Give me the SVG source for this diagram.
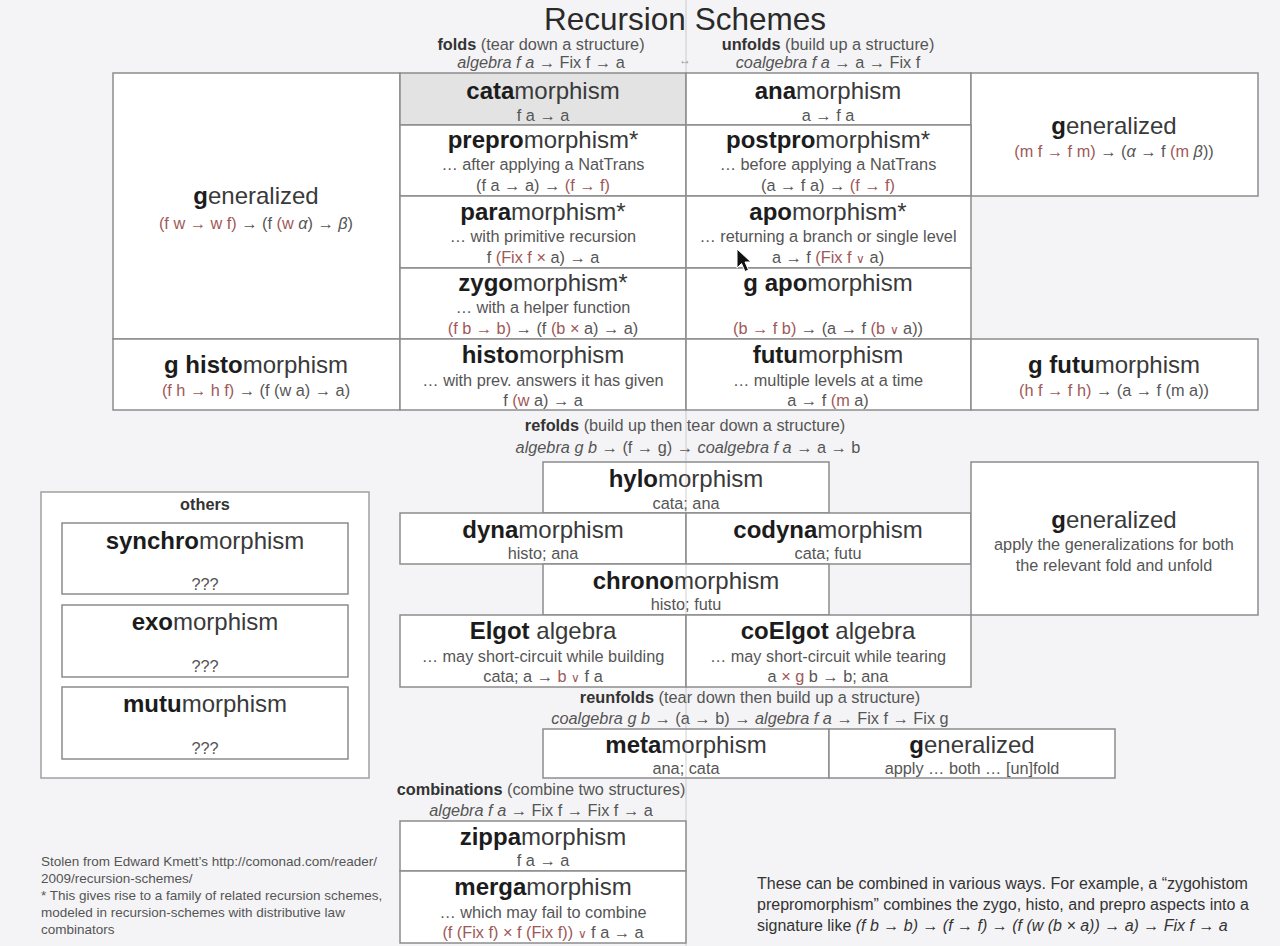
<svg xmlns="http://www.w3.org/2000/svg" width="1280" height="946" viewBox="0 0 1280 946">
<style>
text{font-family:"Liberation Sans",Arial,Helvetica,sans-serif;text-anchor:middle}
.cell{fill:#ffffff;stroke:#8c8c8c;stroke-width:1.5}
.grey{fill:#e3e3e3}
.h{font-size:24px;fill:#3a3a3a}
.b{font-weight:bold;fill:#1c1c1c}
.s{font-size:16.3px;fill:#555}
.hd{font-size:16.3px;fill:#555}
.hd .b{fill:#333}
.r{fill:#9e5858}
.i{font-style:italic}
.v{font-size:12px}
.foot{font-size:13.5px;fill:#555;text-anchor:start}
.para{font-size:16px;fill:#333;text-anchor:start}
</style>
<rect x="0" y="0" width="1280" height="946" fill="#f4f4f6"/>

<text x="685" y="30" style="font-size:31.5px;fill:#2a2a2a">Recursion Schemes</text>
<g id="hdr-folds">
<text class="hd" x="541" y="50"><tspan class="b">folds</tspan> (tear down a structure)</text>
<text class="hd" x="541" y="68"><tspan class="i">algebra f a</tspan> → Fix f → a</text>
</g>
<text x="685" y="64" style="font-size:12px;fill:#999">↔</text>
<g id="hdr-unfolds">
<text class="hd" x="828" y="50"><tspan class="b">unfolds</tspan> (build up a structure)</text>
<text class="hd" x="828" y="68"><tspan class="i">coalgebra f a</tspan> → a → Fix f</text>
</g>

<g id="gen-left">
<rect class="cell" x="113" y="73" width="287" height="266"/>
<text class="h" x="256" y="204"><tspan class="b">g</tspan>eneralized</text>
<text class="s" x="256" y="229"><tspan class="r">(f w → w f) </tspan>→ (f <tspan class="r">(w </tspan><tspan class="i">α</tspan>) → <tspan class="i">β</tspan>)</text>
</g>
<g id="cata">
<rect class="cell grey" x="400" y="73" width="286" height="52"/>
<text class="h" x="543" y="99"><tspan class="b">cata</tspan>morphism</text>
<text class="s" x="543" y="121">f a → a</text>
</g>
<g id="ana">
<rect class="cell" x="686" y="73" width="285" height="52"/>
<text class="h" x="828" y="99"><tspan class="b">ana</tspan>morphism</text>
<text class="s" x="828" y="121">a → f a</text>
</g>
<g id="gen-right">
<rect class="cell" x="971" y="73" width="287" height="123"/>
<text class="h" x="1114" y="134"><tspan class="b">g</tspan>eneralized</text>
<text class="s" x="1114" y="157"><tspan class="r">(m f → f m) </tspan>→ (<tspan class="i">α</tspan> → f <tspan class="r">(m </tspan><tspan class="i">β</tspan>))</text>
</g>
<g id="prepro">
<rect class="cell" x="400" y="125" width="286" height="71"/>
<text class="h" x="543" y="148"><tspan class="b">prepro</tspan>morphism*</text>
<text class="s" x="543" y="170">… after applying a NatTrans</text>
<text class="s" x="543" y="191">(f a → a) → <tspan class="r">(f → f)</tspan></text>
</g>
<g id="postpro">
<rect class="cell" x="686" y="125" width="285" height="71"/>
<text class="h" x="828" y="148"><tspan class="b">postpro</tspan>morphism*</text>
<text class="s" x="828" y="170">… before applying a NatTrans</text>
<text class="s" x="828" y="191">(a → f a) → <tspan class="r">(f → f)</tspan></text>
</g>
<g id="para">
<rect class="cell" x="400" y="196" width="286" height="72"/>
<text class="h" x="543" y="220"><tspan class="b">para</tspan>morphism*</text>
<text class="s" x="543" y="242">… with primitive recursion</text>
<text class="s" x="543" y="263">f <tspan class="r">(Fix f × </tspan>a) → a</text>
</g>
<g id="apo">
<rect class="cell" x="686" y="196" width="285" height="72"/>
<text class="h" x="828" y="220"><tspan class="b">apo</tspan>morphism*</text>
<text class="s" x="828" y="242">… returning a branch or single level</text>
<text class="s" x="828" y="263">a → f <tspan class="r">(Fix f <tspan class="v">∨</tspan> </tspan>a)</text>
</g>
<g id="zygo">
<rect class="cell" x="400" y="268" width="286" height="71"/>
<text class="h" x="543" y="291"><tspan class="b">zygo</tspan>morphism*</text>
<text class="s" x="543" y="313">… with a helper function</text>
<text class="s" x="543" y="334"><tspan class="r">(f b → b) </tspan>→ (f <tspan class="r">(b × </tspan>a) → a)</text>
</g>
<g id="gapo">
<rect class="cell" x="686" y="268" width="285" height="71"/>
<text class="h" x="828" y="291"><tspan class="b">g apo</tspan>morphism</text>
<text class="s" x="828" y="334"><tspan class="r">(b → f b) </tspan>→ (a → f <tspan class="r">(b <tspan class="v">∨</tspan> </tspan>a))</text>
</g>
<g id="ghisto">
<rect class="cell" x="113" y="339" width="287" height="71"/>
<text class="h" x="256" y="373"><tspan class="b">g histo</tspan>morphism</text>
<text class="s" x="256" y="396"><tspan class="r">(f h → h f) </tspan>→ (f (w a) → a)</text>
</g>
<g id="histo">
<rect class="cell" x="400" y="339" width="286" height="71"/>
<text class="h" x="543" y="363"><tspan class="b">histo</tspan>morphism</text>
<text class="s" x="543" y="386">… with prev. answers it has given</text>
<text class="s" x="543" y="406">f <tspan class="r">(w </tspan>a) → a</text>
</g>
<g id="futu">
<rect class="cell" x="686" y="339" width="285" height="71"/>
<text class="h" x="828" y="363"><tspan class="b">futu</tspan>morphism</text>
<text class="s" x="828" y="386">… multiple levels at a time</text>
<text class="s" x="828" y="406">a → f <tspan class="r">(m </tspan>a)</text>
</g>
<g id="gfutu">
<rect class="cell" x="971" y="339" width="287" height="71"/>
<text class="h" x="1114" y="373"><tspan class="b">g futu</tspan>morphism</text>
<text class="s" x="1114" y="396"><tspan class="r">(h f → f h) </tspan>→ (a → f (m a))</text>
</g>

<g id="hdr-refolds">
<text class="hd" x="685" y="431"><tspan class="b">refolds</tspan> (build up then tear down a structure)</text>
<text class="hd" x="688" y="453"><tspan class="i">algebra g b</tspan> → (f → g) → <tspan class="i">coalgebra f a</tspan> → a → b</text>
</g>
<g id="hylo">
<rect class="cell" x="543" y="462" width="286" height="51"/>
<text class="h" x="686" y="487"><tspan class="b">hylo</tspan>morphism</text>
<text class="s" x="686" y="509">cata; ana</text>
</g>
<g id="dyna">
<rect class="cell" x="400" y="513" width="286" height="51"/>
<text class="h" x="543" y="538"><tspan class="b">dyna</tspan>morphism</text>
<text class="s" x="543" y="559">histo; ana</text>
</g>
<g id="codyna">
<rect class="cell" x="686" y="513" width="285" height="51"/>
<text class="h" x="828" y="538"><tspan class="b">codyna</tspan>morphism</text>
<text class="s" x="828" y="559">cata; futu</text>
</g>
<g id="chrono">
<rect class="cell" x="543" y="564" width="286" height="51"/>
<text class="h" x="686" y="589"><tspan class="b">chrono</tspan>morphism</text>
<text class="s" x="686" y="610">histo; futu</text>
</g>
<g id="elgot">
<rect class="cell" x="400" y="615" width="286" height="72"/>
<text class="h" x="543" y="639"><tspan class="b">Elgot</tspan> algebra</text>
<text class="s" x="543" y="662">… may short-circuit while building</text>
<text class="s" x="543" y="682">cata; a → <tspan class="r">b <tspan class="v">∨</tspan> </tspan>f a</text>
</g>
<g id="coelgot">
<rect class="cell" x="686" y="615" width="285" height="72"/>
<text class="h" x="828" y="639"><tspan class="b">coElgot</tspan> algebra</text>
<text class="s" x="828" y="662">… may short-circuit while tearing</text>
<text class="s" x="828" y="682">a <tspan class="r">× g</tspan> b → b; ana</text>
</g>
<g id="gen-refold">
<rect class="cell" x="971" y="462" width="287" height="153"/>
<text class="h" x="1114" y="528"><tspan class="b">g</tspan>eneralized</text>
<text class="s" x="1114" y="550">apply the generalizations for both</text>
<text class="s" x="1114" y="571">the relevant fold and unfold</text>
</g>

<g id="others">
<rect class="cell" x="41" y="492" width="328" height="286" style="stroke:#a0a0a0"/>
<text class="hd" x="205" y="510"><tspan class="b">others</tspan></text>
</g>
<g id="synchro">
<rect class="cell" x="62" y="523" width="286" height="71"/>
<text class="h" x="205" y="549"><tspan class="b">synchro</tspan>morphism</text>
<text class="s" x="205" y="590">???</text>
</g>
<g id="exo">
<rect class="cell" x="62" y="605" width="286" height="72"/>
<text class="h" x="205" y="630"><tspan class="b">exo</tspan>morphism</text>
<text class="s" x="205" y="672">???</text>
</g>
<g id="mutu">
<rect class="cell" x="62" y="687" width="286" height="72"/>
<text class="h" x="205" y="712"><tspan class="b">mutu</tspan>morphism</text>
<text class="s" x="205" y="754">???</text>
</g>

<g id="hdr-reunfolds">
<text class="hd" x="750" y="703"><tspan class="b">reunfolds</tspan> (tear down then build up a structure)</text>
<text class="hd" x="750" y="724"><tspan class="i">coalgebra g b</tspan> → (a → b) → <tspan class="i">algebra f a</tspan> → Fix f → Fix g</text>
</g>
<g id="meta">
<rect class="cell" x="543" y="729" width="286" height="49"/>
<text class="h" x="686" y="753"><tspan class="b">meta</tspan>morphism</text>
<text class="s" x="686" y="774">ana; cata</text>
</g>
<g id="gen-reunfold">
<rect class="cell" x="829" y="729" width="286" height="49"/>
<text class="h" x="972" y="753"><tspan class="b">g</tspan>eneralized</text>
<text class="s" x="972" y="774">apply … both … [un]fold</text>
</g>

<g id="hdr-combinations">
<text class="hd" x="541" y="795"><tspan class="b">combinations</tspan> (combine two structures)</text>
<text class="hd" x="541" y="816"><tspan class="i">algebra f a</tspan> → Fix f → Fix f → a</text>
</g>
<g id="zippa">
<rect class="cell" x="400" y="821" width="286" height="50"/>
<text class="h" x="543" y="845"><tspan class="b">zippa</tspan>morphism</text>
<text class="s" x="543" y="866">f a → a</text>
</g>
<g id="merga">
<rect class="cell" x="400" y="871" width="286" height="72"/>
<text class="h" x="543" y="895"><tspan class="b">merga</tspan>morphism</text>
<text class="s" x="543" y="918">… which may fail to combine</text>
<text class="s" x="543" y="938"><tspan class="r">(f (Fix f) × f (Fix f)) <tspan class="v">∨</tspan> </tspan>f a → a</text>
</g>

<g id="footnote">
<text class="foot" x="41" y="866">Stolen from Edward Kmett’s http://comonad.com/reader/</text>
<text class="foot" x="41" y="883">2009/recursion-schemes/</text>
<text class="foot" x="41" y="900">* This gives rise to a family of related recursion schemes,</text>
<text class="foot" x="41" y="917">modeled in recursion-schemes with distributive law</text>
<text class="foot" x="41" y="934">combinators</text>
</g>
<g id="note">
<text class="para" x="757" y="889">These can be combined in various ways. For example, a “zygohistom</text>
<text class="para" x="757" y="910">prepromorphism” combines the zygo, histo, and prepro aspects into a</text>
<text class="para" x="757" y="931">signature like <tspan class="i">(f b → b) → (f → f) → (f (w (b × a)) → a) → Fix f → a</tspan></text>
</g>

<line x1="686" y1="0" x2="686" y2="946" stroke="#9a9a9a" stroke-width="1" opacity="0.45"/>

<g id="cursor">
<polygon points="737,249 737,268 741.5,263.5 745,271.5 748.5,270 745,262 751,262" fill="#111" stroke="#fff" stroke-width="1"/>
</g>
</svg>
